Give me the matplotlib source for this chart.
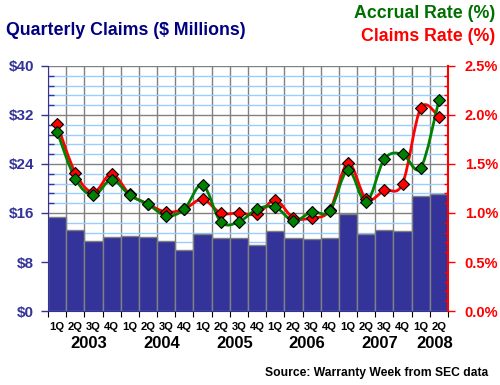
import numpy as np
import matplotlib.pyplot as plt
from matplotlib.path import Path
from matplotlib.patches import PathPatch
from matplotlib.ticker import MultipleLocator, FixedLocator

plt.rcParams['font.family'] = ['Liberation Sans', 'DejaVu Sans']
plt.rcParams['font.weight'] = 'bold'

# Данные
quarters = ['1Q', '2Q', '3Q', '4Q'] * 5 + ['1Q', '2Q']
years = ['2003', '2004', '2005', '2006', '2007', '2008']
claims = [15.3, 13.2, 11.5, 12.0, 12.2, 12.0, 11.4, 9.9,
          12.5, 11.9, 11.9, 10.7, 13.0, 11.9, 11.7, 11.9,
          15.8, 12.6, 13.3, 13.0, 18.8, 19.1]
claims_rate = [1.91, 1.41, 1.21, 1.40, 1.19, 1.09, 1.01, 1.04,
               1.14, 1.00, 1.00, 0.99, 1.13, 0.95, 0.95, 1.03,
               1.51, 1.14, 1.23, 1.30, 2.07, 1.98]
accrual_rate = [1.83, 1.35, 1.18, 1.34, 1.18, 1.09, 0.97, 1.04,
                1.29, 0.91, 0.91, 1.04, 1.06, 0.92, 1.01, 1.02,
                1.44, 1.11, 1.55, 1.60, 1.46, 2.15]

NAVY = '#333399'
GREEN = '#008000'
RED = '#ff0000'


def smooth_path(xs, ys):
    # сглаженная линия как в Excel (Безье через точки)
    p = np.column_stack([xs, ys])
    verts = [p[0]]
    codes = [Path.MOVETO]
    n = len(p)
    for i in range(n - 1):
        p0 = p[i - 1] if i > 0 else p[i]
        p3 = p[i + 2] if i + 2 < n else p[i + 1]
        c1 = p[i] + (p[i + 1] - p0) / 6
        c2 = p[i + 1] - (p3 - p[i]) / 6
        verts += [c1, c2, p[i + 1]]
        codes += [Path.CURVE4] * 3
    return Path(verts, codes)


fig = plt.figure(figsize=(5, 3.85), dpi=100)
ax = fig.add_axes([0.096, 0.1922, 0.8, 0.6364])
x = np.arange(len(claims))

ax.bar(x, claims, width=1.0, color=NAVY, edgecolor='#808080', linewidth=1, zorder=2)
ax.set_xlim(-0.5, len(claims) - 0.5)
ax.set_ylim(0, 40)

ax.yaxis.set_minor_locator(MultipleLocator(1.6))
ax.set_yticks(range(0, 41, 8))
ax.set_yticklabels(['$%d' % v for v in range(0, 41, 8)])
ax.tick_params(axis='y', which='major', direction='out', length=5, color=NAVY,
               labelcolor=NAVY, labelsize=11, width=1, pad=5)
ax.tick_params(axis='y', which='minor', direction='in', length=4, color=NAVY, width=1)

ax.xaxis.set_major_locator(FixedLocator(np.arange(-0.5, len(claims), 1.0)))
ax.xaxis.set_minor_locator(FixedLocator(x))
ax.set_xticklabels([''] * (len(claims) + 1))
ax.set_xticklabels(quarters, minor=True)
ax.tick_params(axis='x', which='major', direction='out', length=4, color='black')
ax.tick_params(axis='x', which='minor', length=0, labelsize=8.1, pad=8)

ax.set_axisbelow(True)
ax.grid(True, which='major', axis='both', color='#808080', linewidth=1)
ax.grid(True, which='minor', axis='y', color='#99ccff', linewidth=1)

for s in ['top', 'right']:
    ax.spines[s].set_visible(False)
ax.spines['left'].set_color(NAVY)
ax.spines['bottom'].set_color(NAVY)

for i, yr in enumerate(years):
    start = i * 4
    stop = min(start + 4, len(claims))
    ax.text((start + stop - 1) / 2 + 0.25, -0.132, yr, transform=ax.get_xaxis_transform(),
            ha='center', va='center', fontsize=12, color='black')

ax2 = ax.twinx()
ax2.set_ylim(0, 2.5)
ax2.yaxis.set_minor_locator(MultipleLocator(0.1))
ax2.set_yticks(np.arange(0, 2.51, 0.5))
ax2.set_yticklabels(['%.1f%%' % v for v in np.arange(0, 2.51, 0.5)])
ax2.tick_params(axis='y', which='major', direction='out', length=5, color=RED,
                labelcolor=RED, labelsize=10.5, width=1, pad=7)
ax2.tick_params(axis='y', which='minor', direction='in', length=3, color=RED, width=1)
for s in ['top', 'left', 'bottom']:
    ax2.spines[s].set_visible(False)
ax2.spines['right'].set_color(RED)
ax2.spines['right'].set_linewidth(1.5)

for vals, col in [(claims_rate, RED), (accrual_rate, GREEN)]:
    ax2.add_patch(PathPatch(smooth_path(x, vals), facecolor='none', edgecolor=col,
                            linewidth=2, zorder=3))
    ax2.plot(x, vals, linestyle='none', marker='D', markersize=6.5,
             markerfacecolor=col, markeredgecolor='black', markeredgewidth=0.8, zorder=4)

fig.text(0.012, 0.922, 'Quarterly Claims ($ Millions)', color='#000080', fontsize=12.8,
         ha='left', va='center')
fig.text(0.99, 0.966, 'Accrual Rate (%)', color='#007000', fontsize=12.8, ha='right', va='center')
fig.text(0.99, 0.906, 'Claims Rate (%)', color=RED, fontsize=12.8, ha='right', va='center')
fig.text(0.976, 0.031, 'Source: Warranty Week from SEC data', color='black', fontsize=8.7,
         ha='right', va='center')

fig.savefig('out.png', dpi=100)
